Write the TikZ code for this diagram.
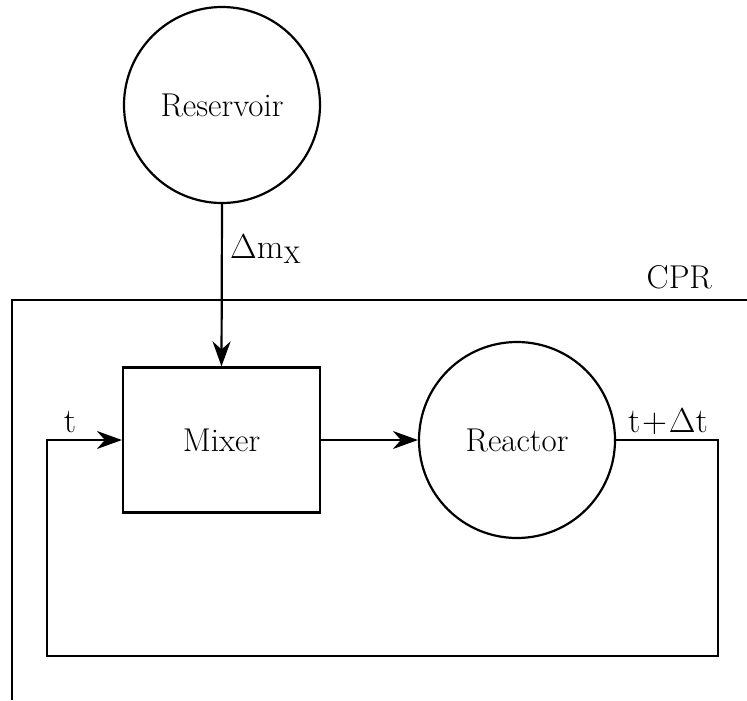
\documentclass[tikz,border=0pt]{standalone}
\usetikzlibrary{arrows.meta}
\begin{document}
\begin{tikzpicture}[x=0.5pt,y=-0.5pt, line width=1.1pt,
  every node/.style={font=\fontsize{16.5}{20}\selectfont},
  unit/.style={draw, circle, minimum size=98pt, inner sep=0pt},
  boxnode/.style={draw, minimum width=98.5pt, minimum height=72.5pt, inner sep=0pt},
  lbl/.style={inner sep=0pt},
  flow/.style={-{Stealth[length=12.5pt,width=9pt,inset=4pt]}}]
\useasboundingbox (0,0) rectangle (747,700);
\node[unit] (res) at (222,105) {Reservoir};
\node[boxnode] (mix) at (221.5,440) {Mixer};
\node[unit] (rea) at (517,440) {Reactor};
\coordinate (cprTL) at (12,300);
\coordinate (cprR) at (747,300);
\coordinate (cprB) at (12,700);
\draw (cprR) -- (cprTL) -- (cprB);
\node[lbl, anchor=base east] (cpr) at (713,288) {CPR};
\draw[flow] (res.south) -- (mix.north);
\node[lbl, anchor=base west] (dm) at (229,258) {$\Delta\mathrm{m}_{\mathrm{X}}$};
\draw[flow] (mix.east) -- (rea.west);
\coordinate (outR) at (718,440);
\coordinate (botR) at (718,656);
\coordinate (botL) at (47,656);
\coordinate (inL) at (47,440);
\draw[flow] (rea.east) -- (outR) -- (botR) -- (botL) -- (inL) -- (mix.west);
\node[lbl, anchor=base] (tin) at (70,432) {$\mathrm{t}$};
\node[lbl, anchor=base] (tout) at (668,432) {$\mathrm{t}\mkern1mu{+}\mkern1mu\Delta\mathrm{t}$};
\end{tikzpicture}
\end{document}
